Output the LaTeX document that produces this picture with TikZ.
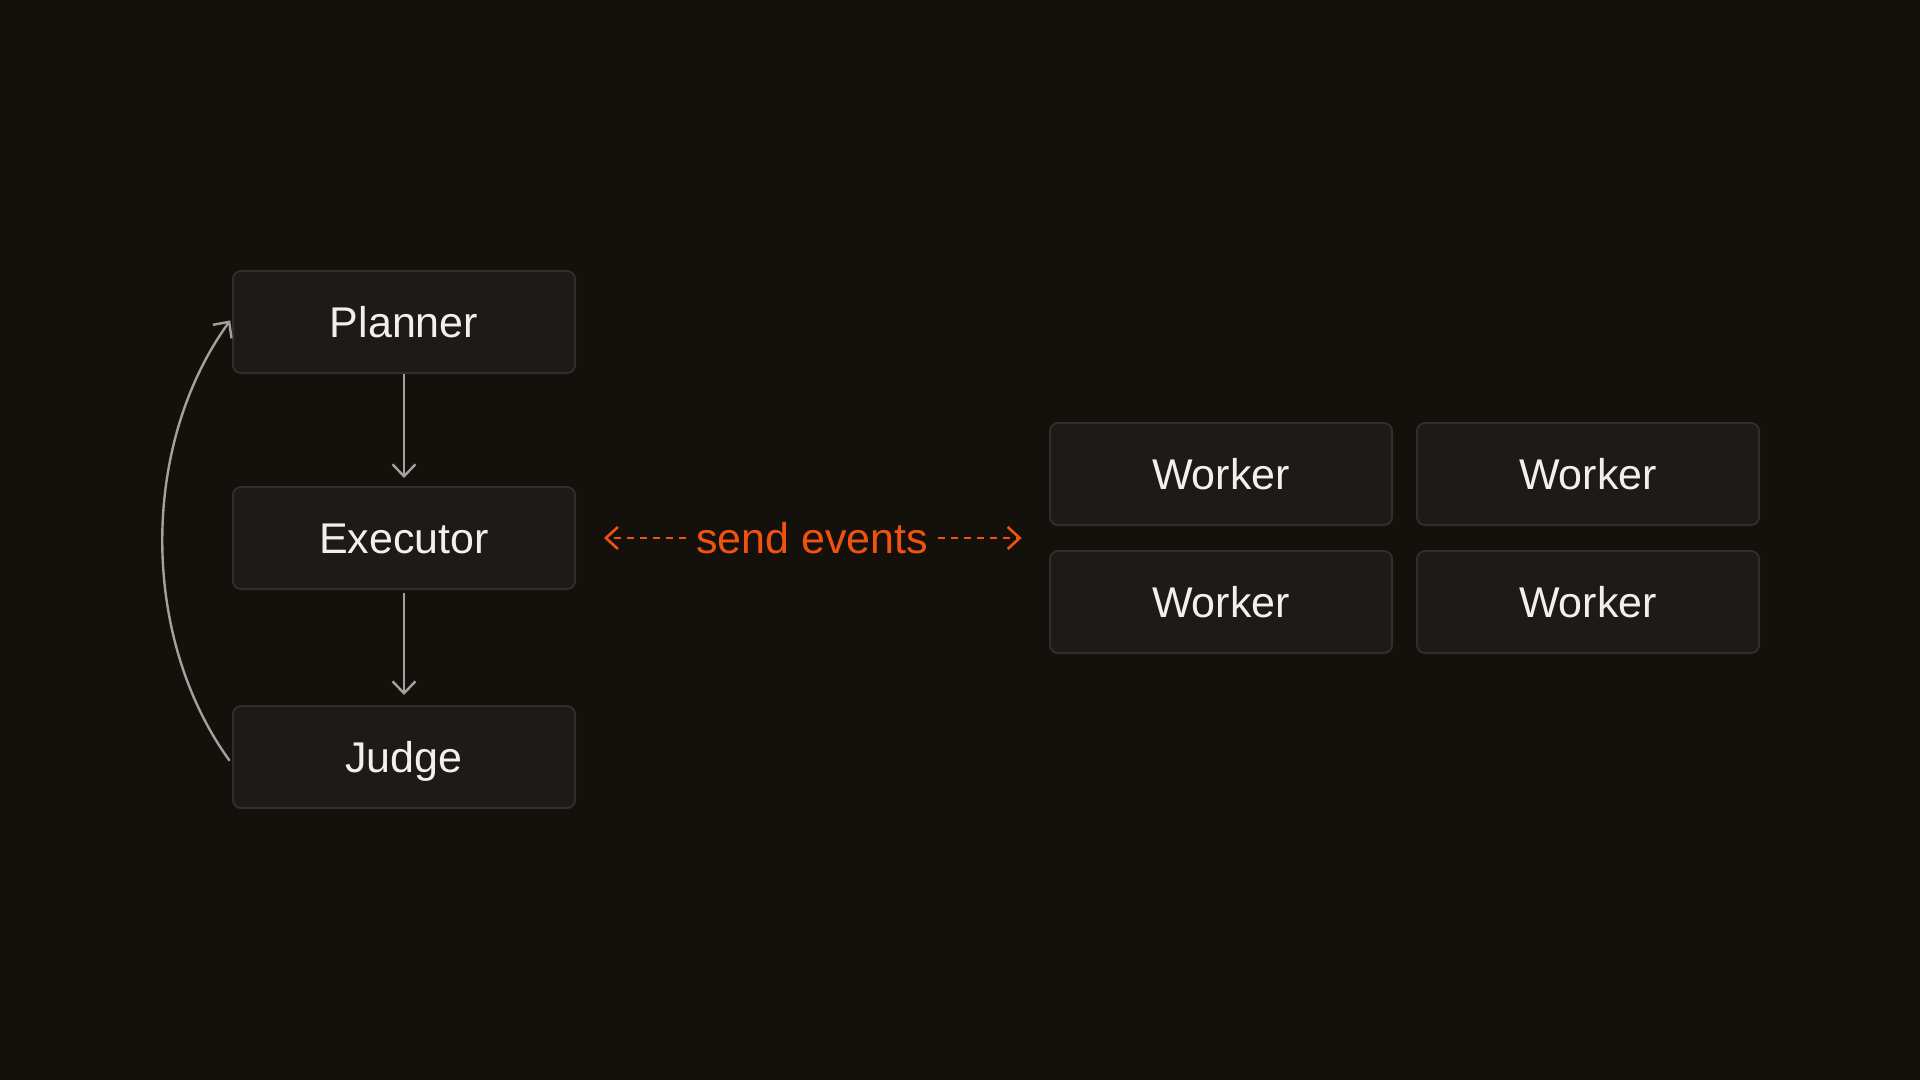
\documentclass[tikz,border=0pt]{standalone}
\usepackage{fontspec}
\setmainfont{Liberation Sans}
\usepackage{tikz}
\usetikzlibrary{arrows.meta}

\definecolor{bgdark}{HTML}{14110D}
\definecolor{boxfill}{HTML}{1C1B18}
\definecolor{boxline}{HTML}{302F2B}
\definecolor{flowgray}{HTML}{A3A19D}
\definecolor{evorange}{HTML}{F0520F}
\definecolor{labelwhite}{HTML}{F2F0EC}

\begin{document}
\begin{tikzpicture}[x=0.5pt,y=-0.5pt,
		stage/.style={rectangle,draw=boxline,line width=1pt,fill=boxfill,rounded corners=4pt,
			minimum width=171pt,minimum height=51pt,text height=15.4pt,text depth=0pt,
			text=labelwhite,font=\fontsize{21.5}{26}\selectfont},
		flow/.style={draw=flowgray,line width=1.2pt,-{Straight Barb[length=6pt,width=11.5pt]}},
		events/.style={draw=evorange,line width=1.3pt,dash pattern=on 3.2pt off 3.3pt,
			-{Straight Barb[length=6pt,width=11pt]}},
		evlabel/.style={inner sep=5pt,text height=15.4pt,text depth=0pt,
			text=evorange,font=\fontsize{21.5}{26}\selectfont}]
		\fill[bgdark] (0,0) rectangle (1920,1080);
		\useasboundingbox (0,0) rectangle (1920,1080);
%		\draw[help lines,step=100] (0,0) grid (1920,1080);
		\path (404,322) coordinate (planner_c);
		\path (404,538) coordinate (executor_c);
		\path (404,757) coordinate (judge_c);

		\path (1221,474) coordinate (w1_c);
		\path (1588,474) coordinate (w2_c);
		\path (1221,602) coordinate (w3_c);
		\path (1588,602) coordinate (w4_c);
		\path (1049,538) coordinate (workers_l);

		\path (812,538) coordinate (events_c);

		\node[stage] (planner) at (planner_c) {Planner};
		\node[stage] (executor) at (executor_c) {Executor};
		\node[stage] (judge) at (judge_c) {Judge};

		\node[stage] (w1) at (w1_c) {Worker};
		\node[stage] (w2) at (w2_c) {Worker};
		\node[stage] (w3) at (w3_c) {Worker};
		\node[stage] (w4) at (w4_c) {Worker};

		\draw[flow,shorten >=4pt] (planner.south) -- (executor.north);
		\draw[flow,shorten <=1.5pt,shorten >=5pt] (executor.south) -- (judge.north);
		\draw[flow,shorten <=2pt,shorten >=1.5pt] ([yshift=-3.5pt]judge.west)
			.. controls +(-92,-127) and +(-92,127) .. ([yshift=2pt]planner.west);

		\node[evlabel] (events) at (events_c) {send events};
		\draw[events,shorten >=14pt] (events.west) -- (executor.east);
		\draw[events,shorten >=13.7pt] (events.east) -- (workers_l);
	\end{tikzpicture}
\end{document}
